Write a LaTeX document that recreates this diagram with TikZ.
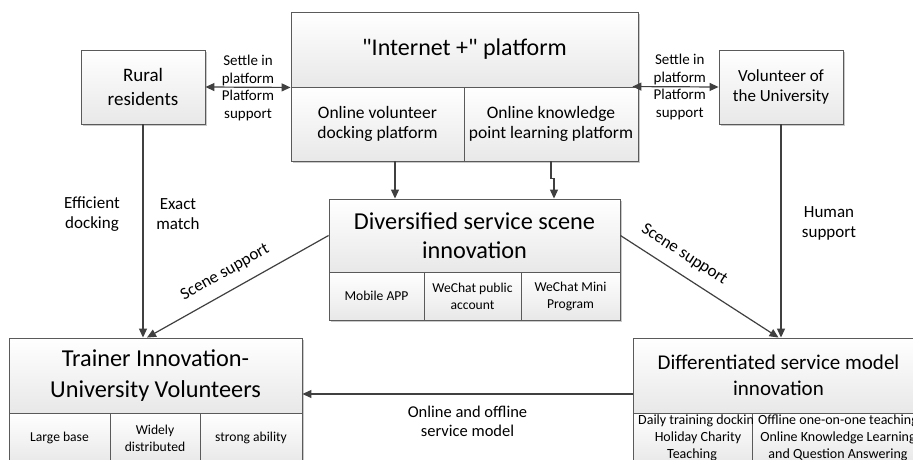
\documentclass[tikz,border=0pt]{standalone}
\usepackage{fontspec}
\setmainfont{Carlito}[Ligatures=TeXOff]
\usetikzlibrary{arrows.meta,shadows,calc}
\definecolor{edge}{HTML}{5A5A5A}
\definecolor{wire}{HTML}{404040}
\tikzset{
  box/.style={draw=edge, line width=0.9pt, top color=white, bottom color=black!9,
    drop shadow={shadow xshift=2pt, shadow yshift=-2pt, fill=black!35, opacity=0.6},
    inner sep=1pt, align=center, font=\fontsize{24.3}{29.6}\selectfont},
  cell/.style={box, font=\fontsize{13.6}{17}\selectfont},
  midcell/.style={box, font=\fontsize{17.5}{20.5}\selectfont},
  wirearrow/.style={draw=wire, line width=1.2pt, -{Triangle[length=9pt,width=8pt]}},
  wirebi/.style={draw=wire, line width=1.2pt, {Triangle[length=9pt,width=8pt]}-{Triangle[length=9pt,width=8pt]}},
  tag/.style={inner sep=1pt, align=center, text=black, font=\fontsize{17}{20}\selectfont},
  smalltag/.style={tag, font=\fontsize{15}{18}\selectfont},
  celltext/.style={tag, font=\fontsize{14}{17}\selectfont},
}
\begin{document}
\begin{tikzpicture}[x=1pt, y=-1pt]
\useasboundingbox[fill=white] (0,0) rectangle (913,460);

% "Internet +" platform and its two parts
\node[box, font=\fontsize{24}{29}\selectfont, minimum width=347pt, minimum height=75pt] (inet) at (464.5,49.5) {"Internet +" platform};
\node[midcell, minimum width=173pt, minimum height=74pt] (inetL) at (377.5,124) {Online volunteer\\docking platform};
\node[midcell, minimum width=174pt, minimum height=74pt] (inetR) at (551,124) {Online knowledge\\point learning platform};

% the two parties
\node[box, font=\fontsize{19}{24.5}\selectfont, minimum width=124pt, minimum height=74pt] (rural) at (143,87) {Rural\\residents};
\node[box, font=\fontsize{17}{20.5}\selectfont, minimum width=124pt, minimum height=74pt] (vol) at (781,87) {Volunteer of\\the University};

% service scene innovation
\node[box, minimum width=291pt, minimum height=73pt] (div) at (474.5,235.5) {Diversified service scene\\innovation};
\node[cell, minimum width=95pt, minimum height=48pt] (divA) at (376.5,296) {Mobile APP};
\node[cell, minimum width=97pt, minimum height=48pt] (divB) at (472.5,296) {WeChat public\\account};
\node[cell, minimum width=99pt, minimum height=48pt] (divC) at (570.5,296) {WeChat Mini\\Program};

% trainer innovation
\node[box, font=\fontsize{24.3}{31}\selectfont, minimum width=293pt, minimum height=75pt] (trainer) at (155.5,375.5) {Trainer Innovation-\\University Volunteers};
\node[cell, minimum width=101pt, minimum height=50pt] (trA) at (59.5,438) {Large base};
\node[cell, minimum width=90pt, minimum height=50pt] (trB) at (155,438) {Widely\\distributed};
\node[cell, minimum width=102pt, minimum height=50pt] (trC) at (251,438) {strong ability};

% service model innovation
\node[box, font=\fontsize{21}{25.5}\selectfont, minimum width=291pt, minimum height=75pt] (diff) at (778.5,375.5) {Differentiated service model\\innovation};
\node[cell, minimum width=119pt, minimum height=50pt] (diffA) at (692.5,438) {};
\node[cell, font=\fontsize{14}{17}\selectfont, minimum width=172pt, minimum height=50pt] (diffB) at (838,438) {Offline one-on-one teaching\\Online Knowledge Learning\\and Question Answering};
\begin{scope}
  \clip (diffA.south west) rectangle (diffA.north east);
  \node[celltext, anchor=west] (dA1) at (637,421) {Daily training docking};
  \node[celltext] (dA2) at (698,438) {Holiday Charity};
  \node[celltext] (dA3) at (692,455) {Teaching};
\end{scope}

% platform links
\draw[wirebi] (rural.east) -- (inet.south west)
  node[smalltag, midway, above=0pt] (l1) {Settle in\\platform}
  node[smalltag, midway, below=1pt] (l2) {Platform\\support};
\draw[wirebi] ([xshift=-6pt]inetR.north east) -- (vol.west)
  node[smalltag, pos=0.55, above=0pt] (l3) {Settle in\\platform}
  node[smalltag, pos=0.55, below=1pt] (l4) {Platform\\support};

% platform to scene innovation
\draw[wirearrow] ([xshift=17.5pt]inetL.south) -- ([xshift=17.5pt]inetL.south |- div.north);
\coordinate (jogA) at ($(inetR.south)+(0,17)$);
\coordinate (jogB) at ($(jogA)+(3,0)$);
\draw[wirearrow] (inetR.south) -- (jogA) -- (jogB) -- (jogB |- div.north);

% down to the trainers
\draw[wirearrow] (rural.south) -- (rural.south |- trainer.north);
\node[tag] (eff) at (92,214) {Efficient\\docking};
\node[tag] (exa) at (178,214) {Exact\\match};
\draw[wirearrow] (div.west) -- ([xshift=-8.5pt]trainer.north)
  node[tag, pos=0.52, sloped, above=10pt] (s1) {Scene support};

% down to the service model
\draw[wirearrow] (vol.south) -- (vol.south |- diff.north);
\node[tag] (hum) at (829,223) {Human\\support};
\draw[wirearrow] (div.east) -- (diff.north)
  node[tag, pos=0.34, sloped, above=10pt] (s2) {Scene support};

% service model back to the trainers
\draw[wirearrow] ([yshift=-18.5pt]diff.west) -- ([yshift=-18.5pt]trainer.east)
  node[tag, midway, below=10pt, font=\fontsize{16.5}{19.5}\selectfont] (oo) {Online and offline\\service model};
\end{tikzpicture}
\end{document}
